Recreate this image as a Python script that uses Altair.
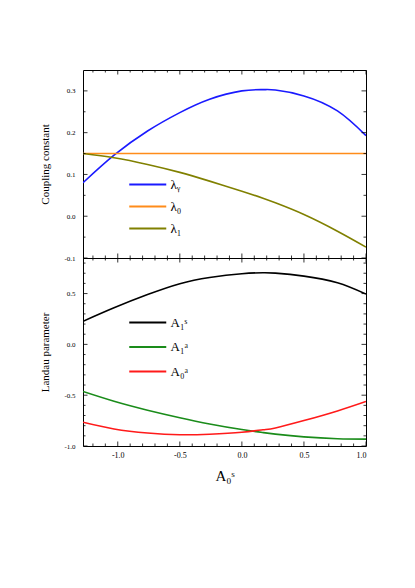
import altair as alt
import pandas as pd

# ---- data ----
x_vals = [-1.28, -1.03, -0.76, -0.5, -0.26, 0.0, 0.17, 0.27, 0.5, 0.77, 1.0]
lam_gamma = [0.080, 0.146, 0.204, 0.248, 0.280, 0.300, 0.303, 0.302, 0.288, 0.252, 0.193]
lam_0 = [0.15, 0.15, 0.15, 0.15, 0.15, 0.15, 0.15, 0.15, 0.15, 0.15, 0.15]
lam_1 = [0.150, 0.140, 0.124, 0.105, 0.084, 0.060, 0.043, 0.032, 0.004, -0.036, -0.074]
a1_s = [0.227, 0.360, 0.490, 0.597, 0.658, 0.695, 0.705, 0.701, 0.672, 0.606, 0.495]
a1_a = [-0.464, -0.560, -0.648, -0.722, -0.783, -0.838, -0.868, -0.883, -0.910, -0.928, -0.932]
a0_a = [-0.766, -0.832, -0.872, -0.889, -0.884, -0.865, -0.840, -0.822, -0.750, -0.655, -0.562]

top_names = ["λᵧ", "λ₀", "λ₁"]
bottom_names = ["A₁ˢ", "A₁ᵃ", "A₀ᵃ"]
top_colors = ["#1a1aff", "#ff8c1a", "#808000"]
bottom_colors = ["#000000", "#1a8c1a", "#ff1a1a"]

x_domain = [-1.28, 1.0]
top_domain = [-0.1, 0.35]
bottom_domain = [-1.0, 0.85]
x_major = [-1.0, -0.5, 0.0, 0.5, 1.0]
x_minor = [-1.2, -1.1, -0.9, -0.8, -0.7, -0.6, -0.4, -0.3, -0.2, -0.1,
           0.1, 0.2, 0.3, 0.4, 0.6, 0.7, 0.8, 0.9]
top_major = [-0.1, 0.0, 0.1, 0.2, 0.3]
top_minor = [-0.05, 0.05, 0.15, 0.25]
bottom_major = [-1.0, -0.5, 0.0, 0.5]
bottom_minor = [-0.9, -0.8, -0.7, -0.6, -0.4, -0.3, -0.2, -0.1,
                0.1, 0.2, 0.3, 0.4, 0.6, 0.7, 0.8]

W, H = 283, 188
FONT = "Liberation Serif"
MAJ, MIN = 4.5, 2.5
LBL = "replace(format(datum.value, '.1f'), '\u2212', '-')"
SYM_R = 18.5  # legend symbol box; the drawn line is twice as long


def long_df(names, series):
    rows = []
    for n, s in zip(names, series):
        for xv, yv in zip(x_vals, s):
            rows.append({"x": xv, "y": yv, "series": n})
    return pd.DataFrame(rows)


def panel(df, names, colors, ydomain, ymajor, yminor, ytitle, legend_y, row_pad,
          label_size, show_x):
    xs = alt.Scale(domain=x_domain, nice=False, zero=False)
    ys = alt.Scale(domain=ydomain, nice=False, zero=False)
    if show_x:
        xaxis = alt.Axis(values=x_major, labelExpr=LBL, title="A₀ˢ", labelFontSize=8,
                         labelPadding=5, titleFontSize=15, titlePadding=9)
    else:
        xaxis = alt.Axis(labels=False, title=None, values=x_major)
    yaxis = alt.Axis(values=ymajor, labelExpr=LBL, title=ytitle, labelFontSize=7,
                     labelPadding=8, titleFontSize=11, titlePadding=13)
    lines = alt.Chart(df).mark_line(strokeWidth=1.6, interpolate="natural", clip=True).encode(
        x=alt.X("x:Q", scale=xs, axis=xaxis),
        y=alt.Y("y:Q", scale=ys, axis=yaxis),
        color=alt.Color("series:N", scale=alt.Scale(domain=names, range=colors),
                        legend=alt.Legend(orient="none", legendX=45 + SYM_R / 2,
                                          legendY=legend_y, title=None,
                                          symbolType="M-2,0L2,0", symbolSize=SYM_R ** 2,
                                          symbolStrokeWidth=2, labelFont=FONT,
                                          labelFontSize=label_size,
                                          labelOffset=SYM_R / 2 + 3,
                                          rowPadding=row_pad, labelColor="black")),
    )
    layers = [lines]

    def xt(values, length):
        base = alt.Chart(pd.DataFrame({"x": values})).mark_rule(color="black", strokeWidth=0.8)
        return [
            base.encode(x=alt.X("x:Q", scale=xs, axis=xaxis), y=alt.value(H), y2=alt.value(H - length)),
            base.encode(x=alt.X("x:Q", scale=xs, axis=xaxis), y=alt.value(0), y2=alt.value(length)),
        ]

    def yt(values, length):
        base = alt.Chart(pd.DataFrame({"y": values})).mark_rule(color="black", strokeWidth=0.8)
        return [
            base.encode(y=alt.Y("y:Q", scale=ys, axis=yaxis), x=alt.value(0), x2=alt.value(length)),
            base.encode(y=alt.Y("y:Q", scale=ys, axis=yaxis), x=alt.value(W), x2=alt.value(W - length)),
        ]

    layers += xt(x_major, MAJ) + xt(x_minor, MIN) + yt(ymajor, MAJ) + yt(yminor, MIN)
    return alt.layer(*layers).properties(width=W, height=H)


top = panel(long_df(top_names, [lam_gamma, lam_0, lam_1]), top_names, top_colors,
            top_domain, top_major, top_minor, "Coupling constant", 104, 4, 13, False)
bottom = panel(long_df(bottom_names, [a1_s, a1_a, a0_a]), bottom_names, bottom_colors,
               bottom_domain, bottom_major, bottom_minor, "Landau parameter", 54, 6.5, 13, True)

chart = (
    alt.vconcat(top, bottom, spacing=0, bounds="flush")
    .resolve_scale(color="independent", y="independent")
    .resolve_legend(color="independent")
    .properties(padding={"left": 31, "top": 61, "right": 5, "bottom": 5}, background="white")
    .configure_view(stroke="black", strokeWidth=1)
    .configure_axis(ticks=False, domain=False, grid=False, labelFont=FONT, titleFont=FONT,
                    labelColor="black", titleColor="black", titleFontWeight="normal")
)

chart.save("out.html", embed_options={"renderer": "svg", "actions": False})
